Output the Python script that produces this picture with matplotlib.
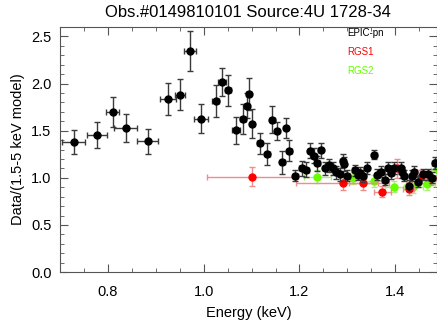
import matplotlib
matplotlib.use("Agg")
import matplotlib.pyplot as plt
from matplotlib.ticker import MultipleLocator

plt.rcParams['font.family'] = ['Liberation Sans', 'DejaVu Sans']

# EPIC-pn
pn_e = [0.729, 0.778, 0.810, 0.837, 0.883, 0.925, 0.951, 0.971, 0.995, 1.025,
        1.039, 1.051, 1.068, 1.082, 1.090, 1.094, 1.101, 1.117, 1.133, 1.143,
        1.153, 1.164, 1.172, 1.179, 1.191, 1.205, 1.214, 1.222, 1.230, 1.2375,
        1.244, 1.2535, 1.2625, 1.269, 1.276, 1.285, 1.290, 1.292, 1.300, 1.315,
        1.323, 1.327, 1.333, 1.341, 1.356, 1.3625, 1.371, 1.378, 1.385, 1.392,
        1.397, 1.411, 1.415, 1.419, 1.428, 1.4345, 1.440, 1.447, 1.4575, 1.468,
        1.477, 1.482]
pn_v = [1.38, 1.454, 1.695, 1.53, 1.386, 1.84, 1.883, 2.344, 1.628, 1.816,
        2.014, 1.929, 1.503, 1.628, 1.766, 1.894, 1.574, 1.365, 1.255, 1.617,
        1.497, 1.163, 1.532, 1.287, 1.024, 1.103, 1.085, 1.287, 1.237, 1.156,
        1.294, 1.103, 1.131, 1.103, 1.06, 1.039, 1.18, 1.146, 1.024, 1.078,
        1.032, 1.056, 1.02, 1.103, 1.245, 1.032, 1.067, 0.979, 1.103, 1.05,
        1.103, 1.103, 1.06, 1.024, 0.918, 1.024, 1.067, 0.96, 1.039, 1.039,
        1.003, 1.156]
pn_yerr = [0.125, 0.138, 0.16, 0.15, 0.13, 0.168, 0.167, 0.21, 0.152, 0.17,
           0.15, 0.167, 0.14, 0.16, 0.13, 0.17, 0.154, 0.115, 0.12, 0.14,
           0.094, 0.12, 0.106, 0.11, 0.06, 0.08, 0.08, 0.08, 0.08, 0.08,
           0.08, 0.07, 0.07, 0.07, 0.07, 0.07, 0.07, 0.07, 0.06, 0.06,
           0.06, 0.06, 0.06, 0.06, 0.05, 0.06, 0.06, 0.06, 0.06, 0.06,
           0.06, 0.06, 0.06, 0.06, 0.06, 0.06, 0.06, 0.06, 0.06, 0.06,
           0.06, 0.06]
pn_xerr = [0.024, 0.021, 0.013, 0.024, 0.022, 0.017, 0.011, 0.013, 0.015, 0.008,
           0.008, 0.006, 0.008, 0.006] + [0.005] * 48

# RGS1
r1_e = [1.100, 1.290, 1.333, 1.373, 1.404, 1.428, 1.453, 1.474]
r1_v = [1.014, 0.943, 0.943, 0.854, 1.103, 0.883, 1.014, 0.997]
r1_yerr = [0.10, 0.07, 0.07, 0.06, 0.10, 0.07, 0.07, 0.07]
r1_xerr = [0.092, 0.097, 0.03, 0.017, 0.012, 0.012, 0.012, 0.010]

# RGS2
r2_e = [1.2375, 1.311, 1.356, 1.398, 1.4375, 1.467, 1.490]
r2_v = [1.014, 0.997, 0.968, 0.907, 0.898, 0.933, 1.085]
r2_yerr = [0.07, 0.06, 0.06, 0.06, 0.06, 0.06, 0.06]
r2_xerr = [0.028, 0.02, 0.02, 0.02, 0.02, 0.015, 0.015]

fig = plt.figure(figsize=(4.37, 3.22), dpi=100)
ax = fig.add_axes([0.137, 0.155, 0.863, 0.761])

ax.errorbar(r2_e, r2_v, yerr=r2_yerr, xerr=r2_xerr, fmt='o', color='#66ff00',
            ecolor='#a8f07a', ms=5, elinewidth=1, capsize=2, zorder=2)
ax.errorbar(r1_e, r1_v, yerr=r1_yerr, xerr=r1_xerr, fmt='o', color='#ff0000',
            ecolor='#f08c8c', ms=5, elinewidth=1, capsize=2, zorder=3)
ax.errorbar(pn_e, pn_v, yerr=pn_yerr, xerr=pn_xerr, fmt='o', color='black',
            ecolor='#3a3a3a', ms=5, elinewidth=1, capsize=2, zorder=4)

ax.set_xlim(0.7, 1.487)
ax.set_ylim(0, 2.6)
ax.xaxis.set_major_locator(MultipleLocator(0.2))
ax.xaxis.set_minor_locator(MultipleLocator(0.05))
ax.yaxis.set_major_locator(MultipleLocator(0.5))
ax.yaxis.set_minor_locator(MultipleLocator(0.1))
ax.tick_params(which='both', direction='in', top=True, right=True,
               color='#555555', labelsize=10.5)
ax.tick_params(axis='x', pad=9)
ax.tick_params(axis='y', pad=6)
ax.tick_params(which='major', length=6)
ax.tick_params(which='minor', length=3)
for s in ax.spines.values():
    s.set_color('#555555')

ax.set_xlabel('Energy (keV)', fontsize=10.5, labelpad=5)
ax.set_ylabel('Data/(1.5-5 keV model)', fontsize=10.5)
ax.set_title('Obs.#0149810101 Source:4U 1728-34', fontsize=12, pad=7)

ax.text(0.762, 0.976, 'EPIC-pn', color='black', fontsize=7, transform=ax.transAxes, va='center')
ax.text(0.762, 0.898, 'RGS1', color='red', fontsize=7, transform=ax.transAxes, va='center')
ax.text(0.762, 0.820, 'RGS2', color='#66ff00', fontsize=7, transform=ax.transAxes, va='center')

fig.savefig('out.png', dpi=100)
